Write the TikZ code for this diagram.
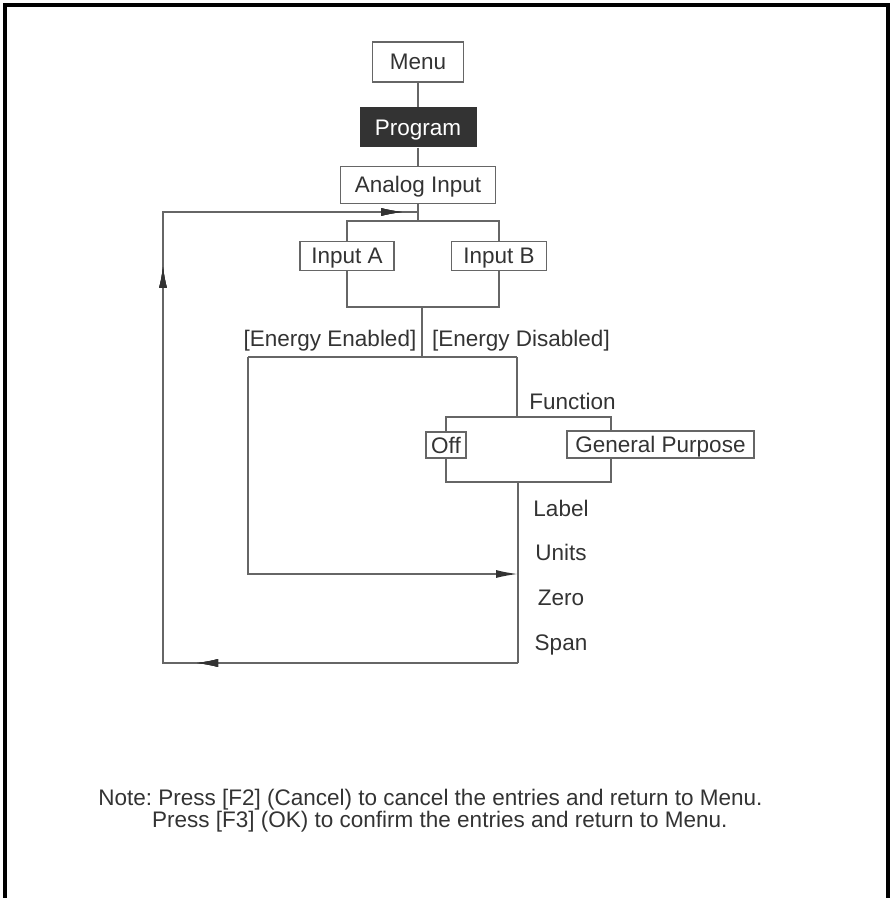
\documentclass[tikz,border=0pt]{standalone}
\usepackage{fontspec}
\setmainfont{Liberation Sans}
\usetikzlibrary{arrows.meta,positioning,decorations.markings}
\definecolor{linegray}{gray}{0.4}
\definecolor{textgray}{gray}{0.2}

\begin{document}
\begin{tikzpicture}[x=0.5pt, y=-0.5pt, node distance=12pt, every node/.style={font=\fontsize{11.25}{11}\selectfont, text=textgray}, box/.style={rectangle, draw=linegray, line width=0.8pt, inner sep=0pt, text height=10pt, text depth=2pt, minimum height=14.5pt}, dark/.style={rectangle, fill=textgray, text=white, inner sep=0pt, text height=10pt, text depth=2pt, minimum width=58.5pt, minimum height=20pt}, item/.style={inner sep=0pt, text height=9pt, text depth=1pt}, line/.style={draw=linegray, line width=0.8pt}, arrow/.style={line, -{Latex[length=11pt,width=4pt,color=textgray]}}, midtip/.style={postaction=decorate, decoration={markings, mark=at position #1 with {\arrow{Latex[length=11pt,width=4pt,color=textgray]}}}}]
\useasboundingbox (0,0) rectangle (890,898);
\draw[line width=2pt] (5,900) -- (5,5) -- (888,5) -- (888,900);
\node[box, minimum width=45.5pt, minimum height=20pt] (menu) at (418,62) {Menu};
\node[dark, below=12pt of menu] (prog) {Program};
\node[box, minimum width=77.5pt, minimum height=18.5pt, below=9pt of prog] (analog) {Analog Input};
\node[box, minimum width=47pt] (inA) at (347,256) {Input A};
\node[box, minimum width=47.5pt, right=28pt of inA] (inB) {Input B};
\node[item] (enab) at (330,338) {[Energy Enabled]};
\node[item] (disab) at (521,338) {[Energy Disabled]};
\node[item, anchor=west] (func) at (529,401) {Function};
\node[box, minimum width=20pt, minimum height=13pt] (off) at (446,445) {Off};
\node[box, minimum width=93.5pt, minimum height=13.5pt] (gp) at (660.5,444.5) {General Purpose};
\node[item] (lbl) at (561,508) {Label};
\node[item, below=12pt of lbl] (units) {Units};
\node[item, below=12pt of units] (zero) {Zero};
\node[item, below=12pt of zero] (span) {Span};
\node[anchor=north west, align=left, inner sep=0pt, font=\fontsize{11.25}{11}\selectfont\frenchspacing] (note) at (98,789) {Note: Press [F2] (Cancel) to cancel the entries and return to Menu.\\\phantom{Note:}Press [F3] (OK) to confirm the entries and return to Menu.};
% branch points
\coordinate (split) at (418,221);
\coordinate (merge) at (422,307);
\coordinate (fork) at (422,357);
\coordinate (enabtop) at (248,357);
\coordinate (distop) at (517,357);
\coordinate (funcsplit) at (517,417);
\coordinate (gptop) at (611,417);
\coordinate (funcjoin) at (518,482);
\coordinate (gpbot) at (611,482);
\coordinate (enabend) at (518,574);
\coordinate (spanend) at (518,663);
\coordinate (looptl) at (163,212);
\coordinate (loopin) at (418,212);
\draw[line] (menu) -- (prog);
\draw[line] (prog) -- (analog);
\draw[line] (analog.south) -- (split);
\draw[line] (inA.north) |- (split) -| (inB.north);
\draw[line] (inA.south) |- (merge) -| (inB.south);
\draw[line] (merge) -- (fork);
\draw[line] (enabtop) -- (distop);
\draw[line] (distop) -- (funcsplit);
\draw[line] (off.north) |- (funcsplit) -- (gptop) -- (gptop |- gp.north);
\draw[line] (off.south) |- (funcjoin) -- (gpbot) -- (gpbot |- gp.south);
\draw[arrow] (enabtop) |- (enabend);
\draw[line] (funcjoin) -- (spanend);
\draw[line, midtip=161pt, midtip=376pt, midtip=523pt] (spanend) -| (looptl) -- (loopin);
\end{tikzpicture}
\end{document}
